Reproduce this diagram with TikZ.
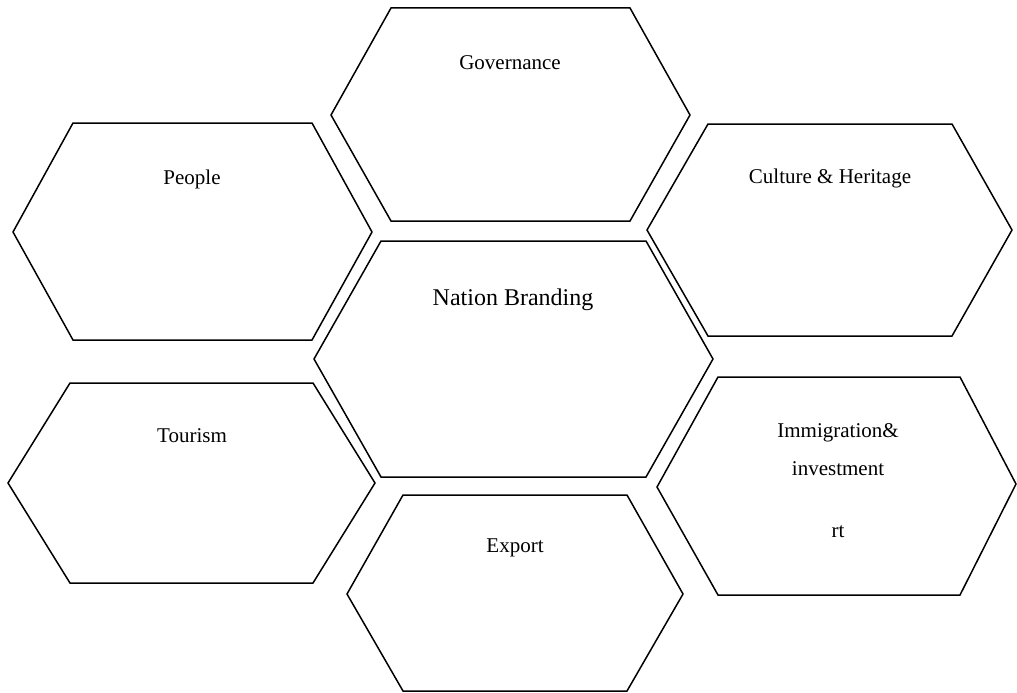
\documentclass[tikz,border=0pt]{standalone}
\usepackage{fontspec}
\setmainfont{Liberation Serif}
\begin{document}
\begin{tikzpicture}[x=1pt,y=-1pt,
  hexline/.style={draw=black,line width=1.5pt,line join=miter},
  lbl/.style={font=\fontsize{21}{25}\selectfont,anchor=center,inner sep=0pt},
  biglbl/.style={font=\fontsize{24}{28}\selectfont,anchor=center,inner sep=0pt}]
\useasboundingbox (0,0) rectangle (1017,693);
% Governance
\draw[hexline] (391,8) -- (630,8) -- (690,115) -- (630,221) -- (391,221) -- (331,115) -- cycle;
\node[lbl] (gov) at (510,63) {Governance};
% People
\draw[hexline] (73,123) -- (312,123) -- (372,232) -- (312,340) -- (73,340) -- (13,232) -- cycle;
\node[lbl] (people) at (192,179) {People};
% Culture & Heritage
\draw[hexline] (708,124) -- (952,124) -- (1012,230) -- (952,336) -- (708,336) -- (647,230) -- cycle;
\node[lbl] (culture) at (830,178) {Culture \& Heritage};
% Nation Branding
\draw[hexline] (381,241) -- (646,241) -- (713,359) -- (646,477) -- (381,477) -- (314,359) -- cycle;
\node[biglbl] (nb) at (513,300) {Nation Branding};
% Tourism
\draw[hexline] (70,383) -- (313,383) -- (375,483) -- (313,583) -- (70,583) -- (8,483) -- cycle;
\node[lbl] (tourism) at (192,436) {Tourism};
% Immigration & investment
\draw[hexline] (718,377) -- (960,377) -- (1016,484) -- (960,595) -- (718,595) -- (657,487) -- cycle;
\node[lbl] (immig) at (838,433) {Immigration\&};
\node[lbl] (invest) at (838,469) {investment};
\node[lbl] (rt) at (838,532) {rt};
% Export
\draw[hexline] (403,495) -- (627,495) -- (683,594) -- (627,691) -- (403,691) -- (347,594) -- cycle;
\node[lbl] (export) at (515,548) {Export};
\end{tikzpicture}
\end{document}
